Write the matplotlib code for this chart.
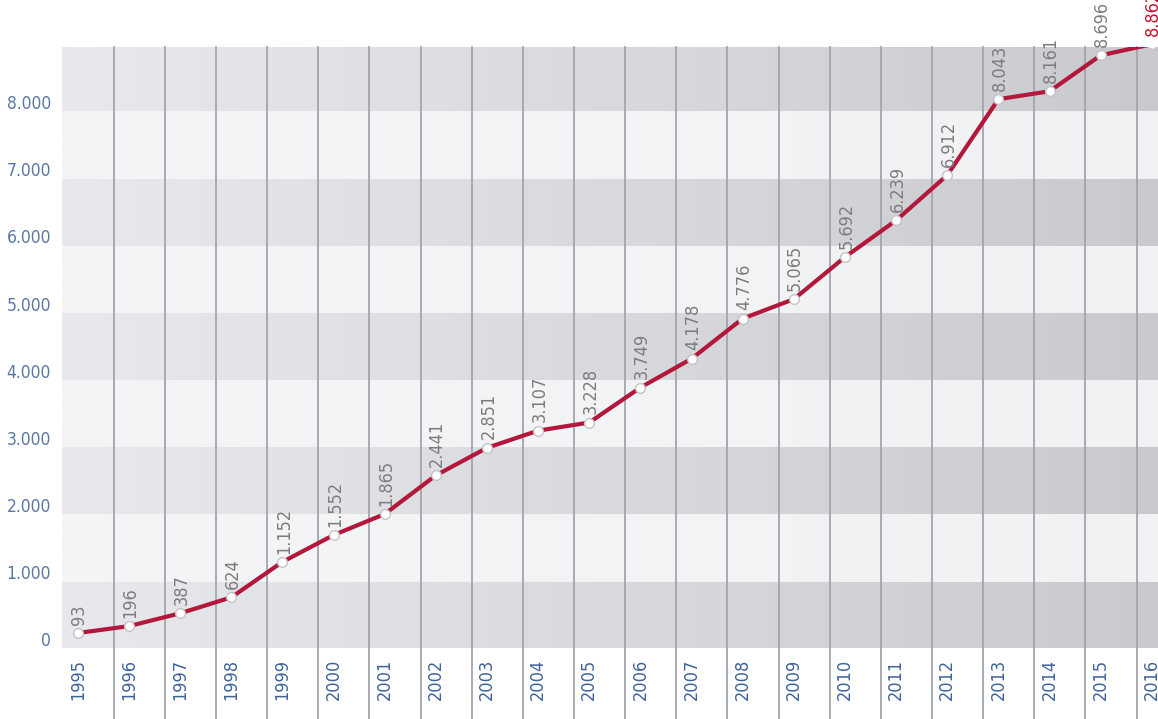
import numpy as np
import matplotlib
matplotlib.use("Agg")
import matplotlib.pyplot as plt
from matplotlib.colors import to_rgb

years = list(range(1995, 2017))
values = [93, 196, 387, 624, 1152, 1552, 1865, 2441, 2851, 3107, 3228,
          3749, 4178, 4776, 5065, 5692, 6239, 6912, 8043, 8161, 8696, 8862]
y_ticks = [0, 1000, 2000, 3000, 4000, 5000, 6000, 7000, 8000]
y_tick_labels = ["0", "1.000", "2.000", "3.000", "4.000", "5.000", "6.000", "7.000", "8.000"]

plt.rcParams['font.family'] = ['DejaVu Sans']
plt.rcParams['font.stretch'] = 'condensed'

fig = plt.figure(figsize=(11.58, 7.19), dpi=100)
ax = fig.add_axes([62 / 1158, 1 - 648 / 719, 1 - 62 / 1158, (648 - 47) / 719])

x0, x1 = 1994.69, 2016.12
y0, y1 = -130, 8820


def gradient(c_left, c_right, n=200):
    a = np.array(to_rgb(c_left))
    b = np.array(to_rgb(c_right))
    t = np.linspace(0, 1, n)[:, None]
    return (a + (b - a) * t)[None, :, :]


# alternating horizontal bands, darker towards the right
edges = [-140 + 1000 * k for k in range(10)]
for i in range(len(edges) - 1):
    if i % 2 == 0:
        img = gradient("#e8e9ec", "#c8cacd")
    else:
        img = gradient("#f4f5f6", "#f1f2f4")
    ax.imshow(img, extent=(x0, x1, edges[i], edges[i + 1]), aspect='auto',
              interpolation='bilinear', zorder=0)
ax.set_xlim(x0, x1)
ax.set_ylim(y0, y1)

# vertical separators, running down through the year labels
for yr in years[:-1]:
    ax.axvline(yr + 0.7, ymin=-0.12, ymax=1, color="#a2a6ac", lw=1.3,
               clip_on=False, zorder=1)

ax.plot(years, values, color="#b3173b", lw=3, zorder=3,
        marker='o', markersize=7, markerfacecolor='white',
        markeredgecolor='#c4c4c4', markeredgewidth=1)

for yr, v in zip(years, values):
    col = "#c8102e" if yr == years[-1] else "#7a7c80"
    ax.annotate(f"{v:,}".replace(",", "."), (yr, v), xytext=(1, 6),
                textcoords='offset points', rotation=90, ha='center',
                va='bottom', fontsize=13, color=col, annotation_clip=False,
                zorder=4)

ax.set_yticks(y_ticks)
ax.set_yticklabels(y_tick_labels)
ax.set_xticks(years)
ax.set_xticklabels([str(y) for y in years], rotation=90)
ax.tick_params(axis='y', length=0, pad=8, labelsize=12.5, labelcolor="#5b78a5")
ax.tick_params(axis='x', length=0, pad=8, labelsize=13, labelcolor="#3d639b")
for s in ax.spines.values():
    s.set_visible(False)

fig.savefig("out.png", dpi=100)
